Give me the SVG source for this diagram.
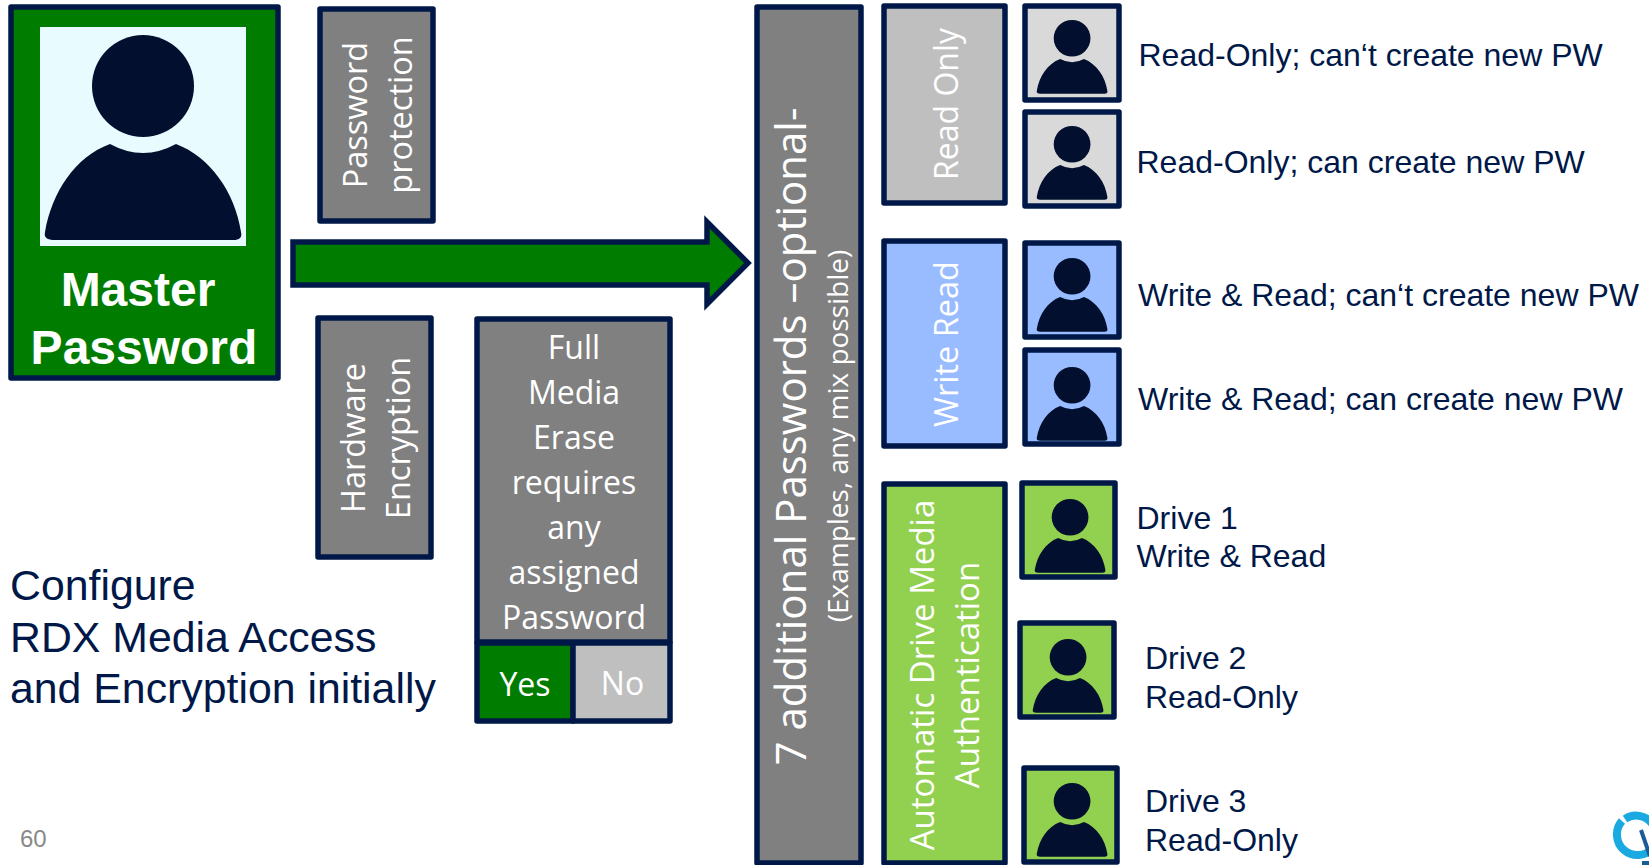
<svg xmlns="http://www.w3.org/2000/svg" width="1649" height="865" viewBox="0 0 1649 865">
<style>
.b{stroke:#001848;stroke-width:5.5;stroke-linejoin:round}
.g{fill:#808080}
.o{font-family:"Open Sans","Noto Sans",sans-serif;fill:#fff;text-anchor:middle}
.l{font-family:"Liberation Sans",Arial,sans-serif;fill:#001848}
.r{font-size:32px}
</style>
<defs>
<g id="person" fill="#020f2e">
<circle cx="103" cy="59" r="51"/>
<path d="M70,117 Q103,135 136,117 C170,130 195,165 201,205 Q203,213 193,213 L15,213 Q3,213 5,205 C12,165 35,130 70,117 Z"/>
</g>
</defs>
<rect width="1649" height="865" fill="#fff"/>
<g id="connectors">
<path class="b" style="stroke-linejoin:miter" fill="#007d00" d="M293,242 H707 V222 L748,263 L707,304 V285 H293 Z"/>
</g>
<g id="master">
<rect class="b" fill="#007d00" x="11" y="7" width="267" height="371"/>
<rect x="40" y="27" width="206" height="219" fill="#e8fbff"/>
<use href="#person" transform="translate(40,27)"/>
<text x="138" y="306" font-size="48" font-weight="700" fill="#fff" text-anchor="middle" font-family="Liberation Sans,Arial,sans-serif">Master</text>
<text x="144" y="364" font-size="48" font-weight="700" fill="#fff" text-anchor="middle" font-family="Liberation Sans,Arial,sans-serif">Password</text>
</g>
<g id="pw-protection">
<rect class="b g" x="320" y="9" width="113" height="212"/>
<text class="o" font-size="32.500" transform="translate(367,115) rotate(-90)"><tspan x="0" y="0">Password</tspan><tspan x="0" y="45">protection</tspan></text>
</g>
<g id="hw-encryption">
<rect class="b g" x="318" y="318" width="113" height="239"/>
<text class="o" font-size="32.500" transform="translate(365,438) rotate(-90)"><tspan x="0" y="0">Hardware</tspan><tspan x="0" y="45">Encryption</tspan></text>
</g>
<g id="erase">
<rect class="b g" x="477" y="319" width="193" height="323"/>
<text class="o" font-size="32"><tspan x="574" y="359">Full</tspan><tspan x="574" y="404">Media</tspan><tspan x="574" y="449">Erase</tspan><tspan x="574" y="494">requires</tspan><tspan x="574" y="539">any</tspan><tspan x="574" y="584">assigned</tspan><tspan x="574" y="629">Password</tspan></text>
</g>
<g id="yes">
<rect class="b" fill="#007d00" x="477" y="643" width="96" height="78"/>
<text class="o" font-size="32" x="525" y="695.500">Yes</text>
</g>
<g id="no">
<rect class="b" fill="#bfbfbf" x="573" y="643" width="97" height="78"/>
<text class="o" font-size="32" x="622.500" y="695">No</text>
</g>
<g id="additional">
<rect class="b g" x="757" y="7" width="104" height="856"/>
<text class="o" font-size="42" transform="rotate(-90)" x="-436.500" y="806">7 additional Passwords –optional-</text>
<text class="o" font-size="28" transform="rotate(-90)" x="-436" y="848">(Examples, any mix possible)</text>
</g>
<g id="read-only">
<rect class="b" fill="#bfbfbf" x="884" y="6" width="121" height="197"/>
<text class="o" font-size="32" transform="rotate(-90)" x="-104" y="958">Read Only</text>
</g>
<g id="write-read">
<rect class="b" fill="#99bbff" x="884" y="241" width="121" height="205"/>
<text class="o" font-size="32.500" transform="rotate(-90)" x="-344" y="958">Write Read</text>
</g>
<g id="auto">
<rect class="b" fill="#92d050" x="884" y="484" width="121" height="379"/>
<text class="o" font-size="33" transform="rotate(-90)"><tspan x="-675" y="934">Automatic Drive Media</tspan><tspan x="-675" y="979">Authentication</tspan></text>
</g>
<g id="u1"><rect class="b" fill="#d9d9d9" x="1025" y="6" width="94" height="94"/><use href="#person" transform="translate(1035,17) scale(.36)"/></g>
<g id="u2"><rect class="b" fill="#d9d9d9" x="1025" y="112" width="94" height="94"/><use href="#person" transform="translate(1035,123) scale(.36)"/></g>
<g id="u3"><rect class="b" fill="#99bbff" x="1025" y="243" width="94" height="94"/><use href="#person" transform="translate(1035,255) scale(.36)"/></g>
<g id="u4"><rect class="b" fill="#99bbff" x="1025" y="350" width="94" height="94"/><use href="#person" transform="translate(1035,364) scale(.36)"/></g>
<g id="u5"><rect class="b" fill="#92d050" x="1022" y="483" width="93" height="94"/><use href="#person" transform="translate(1033,496) scale(.36)"/></g>
<g id="u6"><rect class="b" fill="#92d050" x="1020" y="623" width="94" height="94"/><use href="#person" transform="translate(1031,636) scale(.36)"/></g>
<g id="u7"><rect class="b" fill="#92d050" x="1024" y="768" width="93" height="94"/><use href="#person" transform="translate(1035,780) scale(.36)"/></g>
<g id="labels" class="l r">
<text x="1138.500" y="66">Read-Only; can‘t create new PW</text>
<text x="1136.500" y="173">Read-Only; can create new PW</text>
<text x="1138" y="306">Write &amp; Read; can‘t create new PW</text>
<text x="1138" y="410">Write &amp; Read; can create new PW</text>
<text x="1136.500" y="528.500">Drive 1</text><text x="1136.500" y="566.500">Write &amp; Read</text>
<text x="1145" y="668.500">Drive 2</text><text x="1145" y="707.500">Read-Only</text>
<text x="1145" y="812">Drive 3</text><text x="1145" y="851">Read-Only</text>
</g>
<g id="title" class="l" font-size="42.800">
<text x="10" y="599.500">Configure</text><text x="10" y="651.500">RDX Media Access</text><text x="10" y="702.500">and Encryption initially</text>
</g>
<text id="page" x="20" y="847" font-size="24" fill="#898989" font-family="Liberation Sans,Arial,sans-serif">60</text>
<g id="logo">
<path d="M1622,821 A20,20 0 1 0 1653,848" fill="none" stroke="#1ba9e1" stroke-width="8"/>
<path d="M1625,819 A20,20 0 0 1 1653,825" fill="none" stroke="#1ba9e1" stroke-width="8"/>
<path d="M1641,830 L1650,856" fill="none" stroke="#1a5c96" stroke-width="4"/>
<rect x="1642" y="861" width="7" height="4" fill="#1a5c96"/>
</g>
</svg>
